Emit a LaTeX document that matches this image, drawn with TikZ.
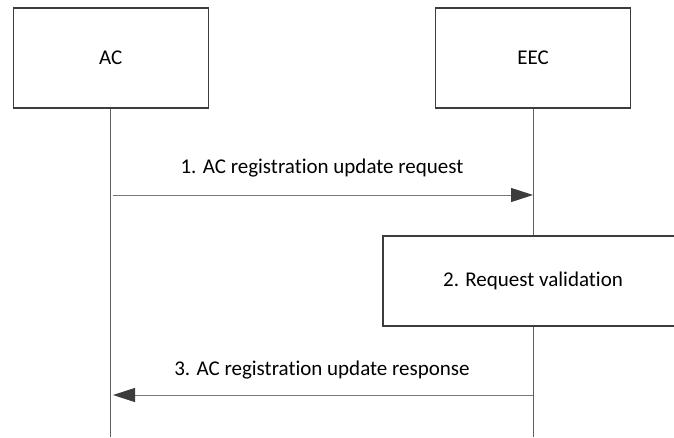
\documentclass[tikz,border=0pt]{standalone}
\usepackage{fontspec}
\setmainfont{Carlito}[Ligatures=NoCommon]
\usepackage{tikz}
\usetikzlibrary{arrows.meta,positioning,calc}
\definecolor{seqdark}{RGB}{60,60,60}
\definecolor{seqgrey}{RGB}{120,120,120}
\definecolor{seqline}{RGB}{95,95,95}

\begin{document}
\begin{tikzpicture}[x=1pt, y=-1pt,
    entity/.style={rectangle, draw=seqdark, line width=1.1pt, fill=white,
                minimum width=195pt, minimum height=100pt, inner sep=0pt,
                font=\fontsize{21}{25}\selectfont},
    action/.style={entity, minimum width=300pt, minimum height=90pt},
    life/.style={draw=seqline, line width=1pt},
    msg/.style={draw=seqgrey, line width=1pt,
                -{Triangle[length=22pt, width=14pt, color=seqdark, fill=seqdark]}},
    lbl/.style={font=\fontsize{21}{25}\selectfont},
  ]
  \clip (0,0) rectangle (674,437);

  % Teilnehmer
  \node[entity] (ac) at (110.7,58) {AC};
  \node[entity] (eec) at (533,58) {EEC};

  % Lebenslinien
  \coordinate (acend) at (110.7,437);
  \coordinate (eecend) at (533,437);
  \draw[life] (ac.south) -- (acend);
  \draw[life] (eec.south) -- (eecend);

  % Punkte auf den Lebenslinien
  \coordinate (ac1) at (112.5,195);
  \coordinate (eec1) at (533,195);
  \coordinate (ac3) at (113,395);
  \coordinate (eec3) at (533,395);

  % 1. Anfrage
  \draw[msg] (ac1) -- (eec1);
  \node[lbl] (m1) at (322,168) {1. AC registration update request};

  % 2. Pruefung
  \node[action] (valid) at (533,281) {2. Request validation};

  % 3. Antwort
  \draw[msg] (eec3) -- (ac3);
  \node[lbl] (m3) at (322,370) {3. AC registration update response};
\end{tikzpicture}
\end{document}
